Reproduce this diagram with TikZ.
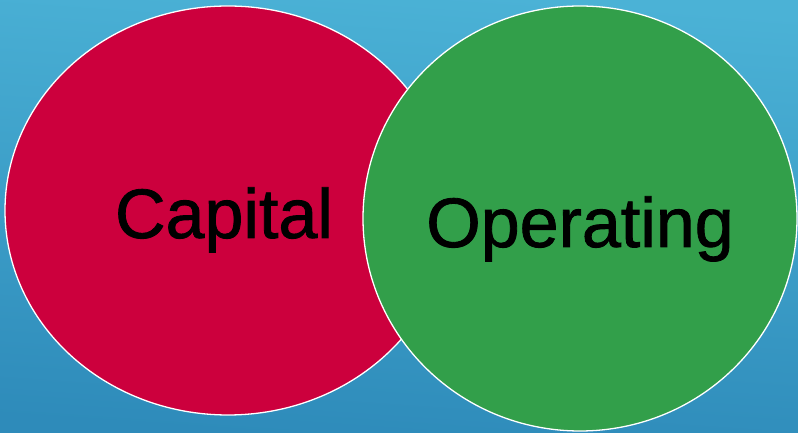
\documentclass[tikz,border=0pt]{standalone}
\usepackage{fontspec}
\setmainfont{Liberation Sans}
\newfontfamily\heavysans[FakeBold=1.2]{Liberation Sans}
\usetikzlibrary{shapes.geometric}
\definecolor{bgtop}{HTML}{4BB2D6}
\definecolor{bgbottom}{HTML}{2E8BBA}
\definecolor{capred}{HTML}{CC003D}
\definecolor{opgreen}{HTML}{329F4A}

\begin{document}
\begin{tikzpicture}[x=1pt, y=1pt,
    blob/.style={ellipse, draw=white, line width=1.3pt, inner sep=0pt},
    bigword/.style={anchor=base, text=black, font=\heavysans\fontsize{70}{78}\selectfont}]
    % background
    \shade[top color=bgtop, bottom color=bgbottom, shading angle=-4] (0,0) rectangle (798,433);
    \useasboundingbox (0,0) rectangle (798,433);

    % the two sets
    \node[blob, fill=capred, minimum width=446pt, minimum height=409pt] (capital) at (228,222.5) {};
    \node[blob, fill=opgreen, minimum width=434pt, minimum height=425pt] (operating) at (580,214.5) {};

    % labels
    \node[bigword] (caplabel) at (224,195) {Capital};
    \node[bigword] (oplabel) at (580,186) {Operating};
\end{tikzpicture}
\end{document}
